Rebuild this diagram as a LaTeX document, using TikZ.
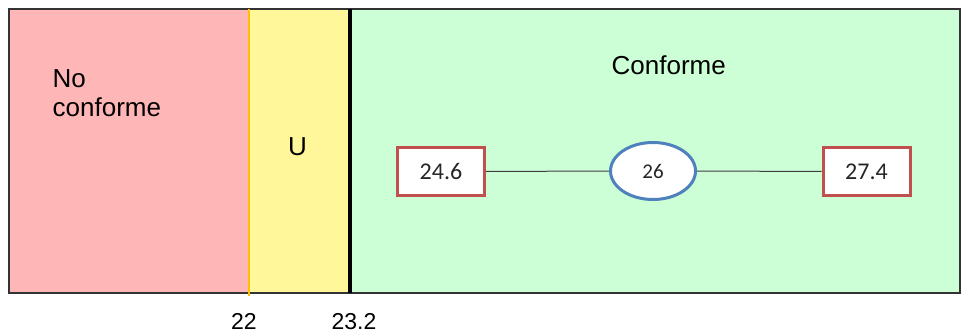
\documentclass[tikz,border=0pt]{standalone}
\usepackage{fontspec}
\setmainfont{Liberation Sans}
\newfontfamily\numfont{Carlito}
\usetikzlibrary{shapes.geometric}
\definecolor{nored}{RGB}{255,182,182}
\definecolor{uyel}{RGB}{255,247,153}
\definecolor{okgreen}{RGB}{204,255,214}
\definecolor{boxred}{RGB}{192,80,77}
\definecolor{ellblue}{RGB}{79,129,189}
\definecolor{uline}{RGB}{255,192,0}
\tikzset{
  lbl/.style={inner sep=0pt, font=\fontsize{26}{30}\selectfont},
  tick/.style={inner sep=0pt, anchor=base, font=\fontsize{23}{27}\selectfont},
  valbox/.style={draw=boxred, line width=3pt, fill=white, minimum width=87pt, minimum height=47pt, inner sep=0pt, font=\numfont\fontsize{24}{28}\selectfont, text=black!85},
  nomval/.style={ellipse, draw=ellblue, line width=3pt, fill=white, minimum width=85pt, minimum height=57pt, inner sep=0pt, font=\numfont\fontsize{21}{25}\selectfont, text=black!85},
  link/.style={draw=black!75, line width=1pt}
}
\begin{document}
\begin{tikzpicture}[x=1pt,y=-1pt]
\useasboundingbox (0,0) rectangle (961,334);
\fill[white] (0,0) rectangle (961,334);
\fill[nored] (9,9) rectangle (249,293);
\fill[uyel] (249,9) rectangle (350,293);
\fill[okgreen] (350,9) rectangle (960,293);
\draw[black!80, line width=1.6pt] (9,9) rectangle (960,293);
\draw[uline, line width=1.2pt] (249,9) -- (249,296);
\draw[black, line width=4pt] (350,9) -- (350,293);
\node[lbl, anchor=base west] (no) at (52.5,87.3) {No};
\node[lbl, anchor=base west] (noconf) at (52.5,116.7) {conforme};
\node[lbl, anchor=base] (u) at (297.5,155.7) {U};
\node[lbl, anchor=base west] (conf) at (611.5,74.3) {Conforme};
\node[valbox] (lo) at (441,171.5) {24.6};
\node[nomval] (nom) at (653,171) {26};
\node[valbox] (hi) at (866.5,171.5) {27.4};
\draw[link] (lo) -- (nom);
\draw[link] (nom) -- (hi);
\node[tick] (t22) at (244,329) {22};
\node[tick] (t232) at (354,329) {23.2};
\end{tikzpicture}
\end{document}
